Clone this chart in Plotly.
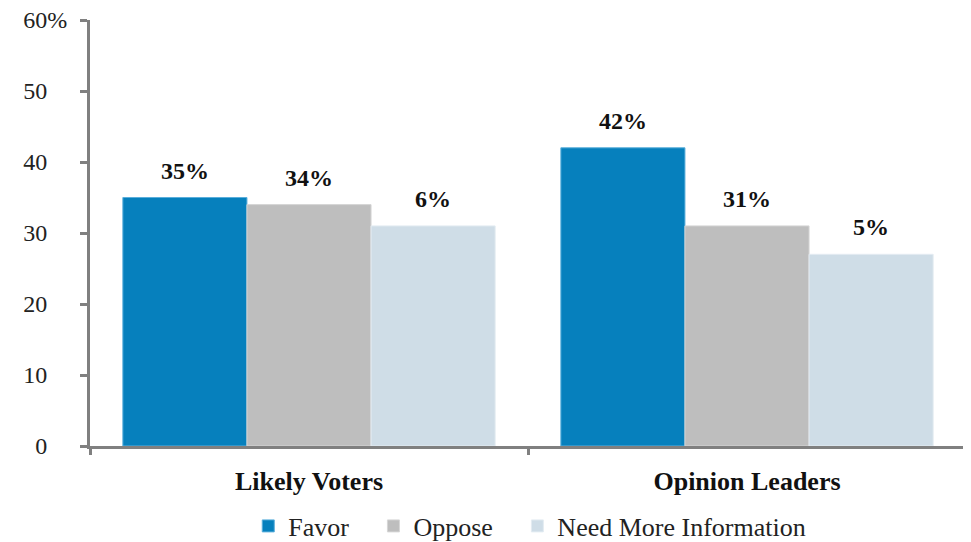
import plotly.graph_objects as go

# ── Data ───────────────────────────────────────────────────────────────────
CATEGORIES = ["Likely Voters", "Opinion Leaders"]
SERIES     = ["Favor", "Oppose", "Need More Information"]
FAVOR      = [35, 42]
OPPOSE     = [34, 31]
NEED_INFO  = [31, 27]
# printed labels (as in the original slide, not always the bar height)
FAVOR_LBL  = ["35%", "42%"]
OPPOSE_LBL = ["34%", "31%"]
NEED_LBL   = ["6%", "5%"]

Y_TICKS    = [0, 10, 20, 30, 40, 50, 60]
Y_MAX      = 60

# ── Style ──────────────────────────────────────────────────────────────────
COLORS    = ["#0680BD", "#BEBEBE", "#CFDDE7"]
EDGES     = ["#5AAEDB", "#D6D6D6", "#E4ECF2"]
AXIS_CLR  = "#808080"
FONT      = "'Liberation Serif', 'DejaVu Serif', serif"
BARGAP    = 0.15

# page body adds an 8px margin, so the figure starts at (8, 8) in the window;
# the figure runs a little past the bottom of the window so the legend
# does not push the plot area up
W, H      = 963, 550
MARGIN    = dict(l=82, r=5, t=12, b=112)
PLOT_H    = H - MARGIN["t"] - MARGIN["b"]
LEGEND_DY = 80                 # legend centre below the x axis, px
ENTRY_PAD = "\u2002\u00a0"     # extra room after a legend entry

# numbers line up on the right, only the top one shows its "%"
HIDDEN_PCT = "<span style='color:rgba(0,0,0,0)'>%</span>"
y_tick_text = [f"{t}%" if t == Y_MAX else f"{t}{HIDDEN_PCT}" for t in Y_TICKS]

values = [FAVOR, OPPOSE, NEED_INFO]
labels = [FAVOR_LBL, OPPOSE_LBL, NEED_LBL]

fig = go.Figure()
for k, (name, vals, clr, edge) in enumerate(zip(SERIES, values, COLORS, EDGES)):
    fig.add_trace(go.Bar(
        x=CATEGORIES, y=vals,
        name=name + (ENTRY_PAD if k < len(SERIES) - 1 else ""),
        marker=dict(color=clr, line=dict(color=edge, width=1)),
        hoverinfo="skip",
    ))

# value labels sitting above each bar of the group
n = len(SERIES)
bar_w = (1 - BARGAP) / n
annotations = []
for j, (vals, lbls) in enumerate(zip(values, labels)):
    for i, (v, t) in enumerate(zip(vals, lbls)):
        annotations.append(dict(
            x=i + (j - (n - 1) / 2) * bar_w, y=v, xref="x", yref="y",
            text=f"<b>{t}</b>", showarrow=False, yshift=27,
            font=dict(family=FONT, size=24, color="#111111"),
        ))

fig.update_layout(
    width=W, height=H,
    paper_bgcolor="white", plot_bgcolor="white",
    margin=MARGIN,
    font=dict(family=FONT, size=22, color="#222222"),
    barmode="group", bargap=BARGAP, bargroupgap=0,
    annotations=annotations,
    showlegend=True,
    legend=dict(
        orientation="h", x=0.502, xanchor="center",
        y=-LEGEND_DY / PLOT_H, yanchor="middle",
        font=dict(family=FONT, size=26, color="#222222"),
        itemwidth=30, tracegroupgap=0,
    ),
    xaxis=dict(
        type="category", showline=True, linecolor=AXIS_CLR, linewidth=3,
        ticks="outside", tickson="boundaries", ticklen=6, tickwidth=3, tickcolor=AXIS_CLR,
        ticklabelstandoff=10, automargin=False,
        tickfont=dict(family=FONT, size=26, color="#111111"),
        tickprefix="<b>", ticksuffix="</b>",
        showgrid=False, zeroline=False,
    ),
    yaxis=dict(
        range=[0, Y_MAX], tickvals=Y_TICKS, ticktext=y_tick_text,
        showline=True, linecolor=AXIS_CLR, linewidth=3,
        ticks="outside", ticklen=7, tickwidth=3, tickcolor=AXIS_CLR,
        ticklabelstandoff=8, ticklabeloverflow="allow", automargin=False,
        tickfont=dict(family=FONT, size=24, color="#222222"),
        showgrid=False, zeroline=False,
    ),
)

fig.write_html("out.html")
